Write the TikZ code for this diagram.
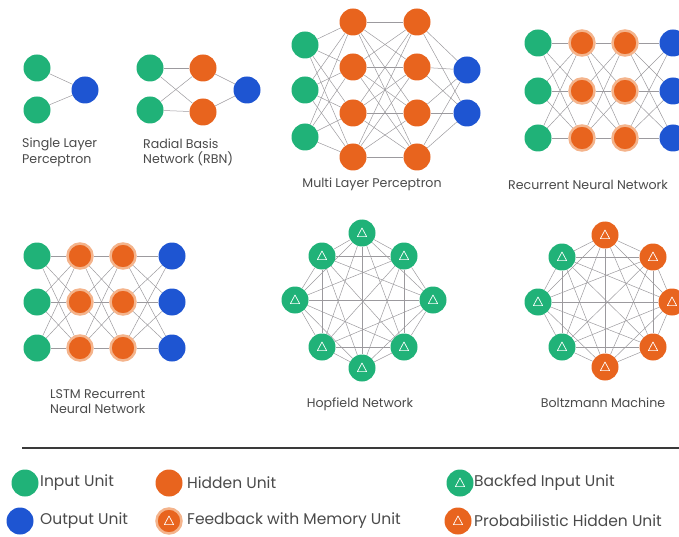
\documentclass[tikz,border=0pt]{standalone}
\usepackage{fontspec}
\setmainfont{Poppins}
\usetikzlibrary{backgrounds}
\definecolor{cgreen}{HTML}{20B278}
\definecolor{corange}{HTML}{E8641E}
\definecolor{cblue}{HTML}{1E55D2}
\definecolor{cring}{HTML}{F4B48C}
\definecolor{cedge}{HTML}{9C9A9E}
\definecolor{ctext}{HTML}{4A4A4A}
\definecolor{crule}{HTML}{3A3A3A}
\tikzset{
  unit/.style={circle, minimum size=27pt, inner sep=0pt, draw=none},
  inp/.style={unit, fill=cgreen},
  hid/.style={unit, fill=corange},
  outp/.style={unit, fill=cblue},
  memu/.style={unit, fill=corange, draw=cring, line width=2.5pt, minimum size=25pt},
  tri/.style={path picture={\draw[white, line width=0.7pt, line join=round]
      (path picture bounding box.center) +(0,-5) -- +(-4.6,3.6) -- +(4.6,3.6) -- cycle;}},
  backfed/.style={inp, tri},
  prob/.style={hid, tri},
  memtri/.style={memu, tri},
  edge/.style={draw=cedge, line width=0.5pt},
  lbl/.style={font=\fontsize{12.6}{15.5}\selectfont, text=ctext, inner sep=0pt},
  leg/.style={font=\fontsize{15.5}{18}\selectfont, text=ctext, anchor=west, inner sep=0pt}
}
\begin{document}
\begin{tikzpicture}[x=1pt, y=-1pt]
\useasboundingbox (0,0) rectangle (679,537);

% ---------- Single Layer Perceptron
\node[inp] (s1) at (37,68) {};
\node[inp] (s2) at (37,110) {};
\node[outp] (so) at (85,90) {};
\node[lbl, anchor=west, align=left] (slbl) at (22,152.5) {Single Layer\\Perceptron};

% ---------- RBN
\node[inp] (r1) at (150,68) {};
\node[inp] (r2) at (150,110) {};
\node[hid] (rh1) at (203,68) {};
\node[hid] (rh2) at (203,112) {};
\node[outp] (ro) at (247,90) {};
\node[lbl, anchor=west, align=left] (rlbl) at (143,152.5) {Radial Basis\\Network (RBN)};

% ---------- MLP
\foreach \i/\y in {1/45,2/90,3/137} \node[inp] (mi\i) at (305,\y) {};
\foreach \i/\y in {1/22,2/67,3/113,4/157} {
  \node[hid] (ma\i) at (353,\y) {};
  \node[hid] (mb\i) at (417,\y) {};
}
\node[outp] (mo1) at (467,70) {};
\node[outp] (mo2) at (467,113) {};
\node[lbl] (mlbl) at (372,184) {Multi Layer Perceptron};

% ---------- RNN
\foreach \i/\y in {1/43,2/91,3/138} {
  \node[inp] (ni\i) at (538,\y) {};
  \node[memu] (na\i) at (582,\y) {};
  \node[memu] (nb\i) at (625,\y) {};
  \node[outp] (no\i) at (673,\y) {};
}
\node[lbl] (nlbl) at (588,185) {Recurrent Neural Network};

% ---------- LSTM
\foreach \i/\y in {1/256,2/302,3/348} {
  \node[inp] (li\i) at (37,\y) {};
  \node[memu] (la\i) at (80,\y) {};
  \node[memu] (lb\i) at (123,\y) {};
  \node[outp] (lo\i) at (172,\y) {};
}
\node[lbl, anchor=west, align=left] (llbl) at (50,401.5) {LSTM Recurrent\\Neural Network};

% ---------- Hopfield
\node[backfed] (h1) at (362,233) {};
\node[backfed] (h2) at (404,256) {};
\node[backfed] (h3) at (433,300) {};
\node[backfed] (h4) at (404,347) {};
\node[backfed] (h5) at (362,368) {};
\node[backfed] (h6) at (322,347) {};
\node[backfed] (h7) at (295,300) {};
\node[backfed] (h8) at (322,256) {};
\node[lbl] (hlbl) at (360,404) {Hopfield Network};

% ---------- Boltzmann
\node[prob] (b1) at (605,235) {};
\node[prob] (b2) at (653,257) {};
\node[prob] (b3) at (672,302) {};
\node[prob] (b4) at (653,347) {};
\node[prob] (b5) at (605,367) {};
\node[backfed] (b6) at (562,347) {};
\node[backfed] (b7) at (538,302) {};
\node[backfed] (b8) at (562,257) {};
\node[lbl] (blbl) at (603,403) {Boltzmann Machine};

% ---------- edges
\begin{scope}[on background layer]
  \draw[edge] (s1) -- (so) (s2) -- (so);
  \foreach \a in {r1,r2} \foreach \b in {rh1,rh2} \draw[edge] (\a) -- (\b);
  \draw[edge] (rh1) -- (ro) (rh2) -- (ro);
  \foreach \a in {1,2,3} \foreach \b in {1,2,3,4} \draw[edge] (mi\a) -- (ma\b);
  \foreach \a in {1,2,3,4} \foreach \b in {1,2,3,4} \draw[edge] (ma\a) -- (mb\b);
  \foreach \a in {1,2,3,4} \foreach \b in {1,2} \draw[edge] (mb\a) -- (mo\b);
  \foreach \a in {1,2,3} \foreach \b in {1,2,3} {
    \draw[edge] (ni\a) -- (na\b);
    \draw[edge] (na\a) -- (nb\b);
    \draw[edge] (nb\a) -- (no\b);
    \draw[edge] (li\a) -- (la\b);
    \draw[edge] (la\a) -- (lb\b);
    \draw[edge] (lb\a) -- (lo\b);
  }
  \foreach \a in {1,...,8} \foreach \b in {1,...,8} {
    \ifnum\a<\b
      \draw[edge] (h\a) -- (h\b);
      \draw[edge] (b\a) -- (b\b);
    \fi
  }
\end{scope}

% ---------- rule
\coordinate (rl) at (22,448);
\coordinate (rr) at (679,448);
\draw[crule, line width=1.5pt] (rl) -- (rr);

% ---------- legend
\node[inp] (g1) at (25,483) {};
\node[leg] (g1t) at (40,483) {Input Unit};
\node[outp] (g2) at (20,521) {};
\node[leg] (g2t) at (40,521) {Output Unit};
\node[hid] (g3) at (169,483) {};
\node[leg] (g3t) at (187,483) {Hidden Unit};
\node[memtri] (g4) at (169,521) {};
\node[leg] (g4t) at (187,521) {Feedback with Memory Unit};
\node[backfed] (g5) at (460,483) {};
\node[leg] (g5t) at (474,483) {Backfed Input Unit};
\node[prob] (g6) at (458,521) {};
\node[leg] (g6t) at (474,521) {Probabilistic Hidden Unit};
\end{tikzpicture}
\end{document}
